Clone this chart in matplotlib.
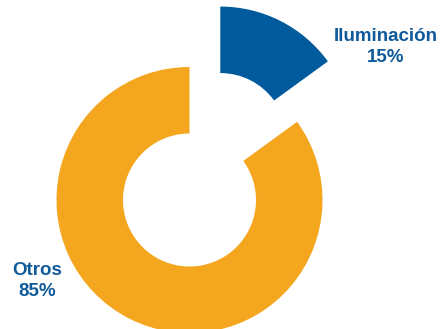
import matplotlib
matplotlib.use("Agg")
import matplotlib.pyplot as plt

labels = ["Iluminación", "Otros"]
shares = [15, 85]
colors = ["#005A9C", "#F5A61F"]
explode = [0.51, 0.0]

R = 133.0  # outer radius in pixels
cx, cy = 189.5, 329 - 200  # pie centre in pixels from bottom-left

fig = plt.figure(figsize=(4.43, 3.29), dpi=100)
ax = fig.add_axes([0, 0, 1, 1])
ax.pie(shares, colors=colors, explode=explode, startangle=90, counterclock=False,
       radius=1.0, wedgeprops=dict(width=0.5, linewidth=0))
ax.set_xlim(-cx / R, (443 - cx) / R)
ax.set_ylim(-cy / R, (329 - cy) / R)
ax.set_aspect("equal")
ax.axis("off")

txt = dict(ha="center", va="center", color="#0F5A9A", fontsize=13.5, fontweight="bold",
           family="Liberation Sans", linespacing=1.3)
ax.text((386 - cx) / R, (329 - 47 - cy) / R, f"{labels[0]}\n{shares[0]}%", **txt)
ax.text((37 - cx) / R, (329 - 281 - cy) / R, f"{labels[1]}\n{shares[1]}%", **txt)

fig.savefig("out.png", dpi=100)
